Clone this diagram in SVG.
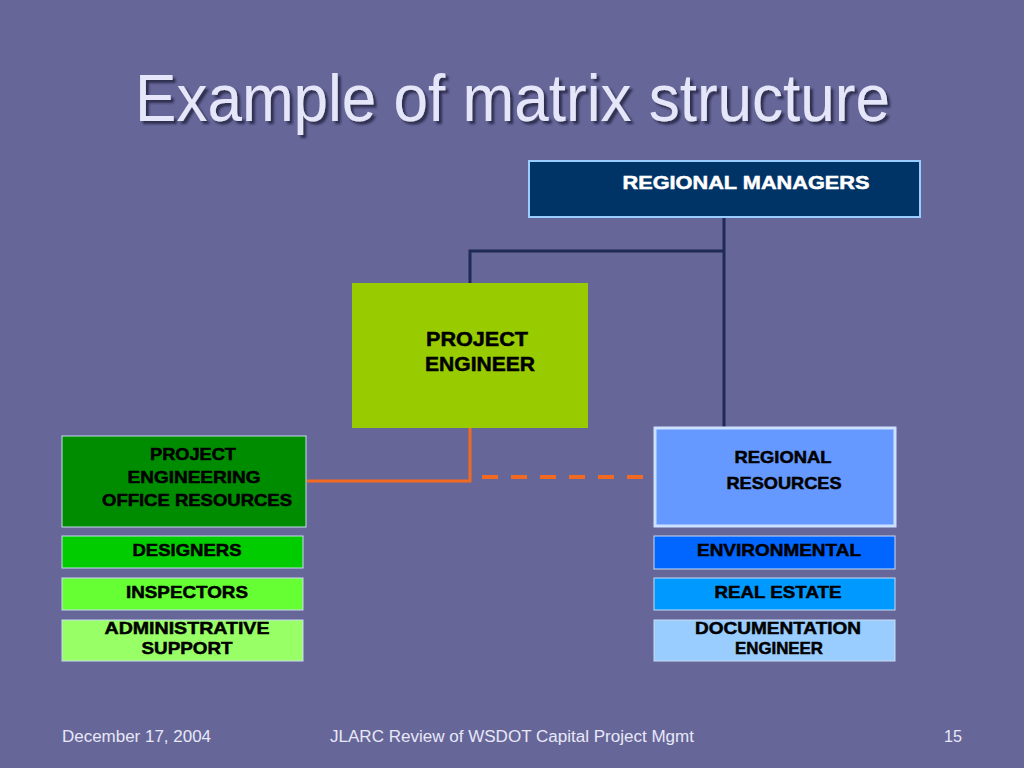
<svg xmlns="http://www.w3.org/2000/svg" width="1024" height="768" viewBox="0 0 1024 768">
<defs>
<filter id="shadow" x="-5%" y="-20%" width="110%" height="140%">
<feDropShadow dx="3" dy="3" stdDeviation="1" flood-color="#2a2a48" flood-opacity="0.9"/>
</filter>
</defs>
<style>
.lbl{font-family:"Liberation Sans",Arial,sans-serif;font-weight:bold;fill:#000;stroke:#000;stroke-width:0.5;text-anchor:middle;}
.wlbl{fill:#fff;stroke:#fff;}
.foot{font-family:"Liberation Sans",Arial,sans-serif;fill:#e8e8f8;font-size:16px;}
.box{stroke:#c9dcf2;stroke-width:1;}
</style>
<rect x="0" y="0" width="1024" height="768" fill="#666699"/>
<g id="title">
<text x="135" y="121" font-family="Liberation Sans,Arial,sans-serif" font-size="67" fill="#e6e6fa" filter="url(#shadow)" textLength="755" lengthAdjust="spacingAndGlyphs">Example of matrix structure</text>
</g>
<g id="connectors" fill="none">
<path d="M724 217 V427 M724 251 H470 V283" stroke="#1f2a55" stroke-width="3"/>
<path d="M470 428 V481 H307" stroke="#f26a22" stroke-width="3"/>
<path d="M482 477 H643" stroke="#f26a22" stroke-width="4" stroke-dasharray="16 13"/>
</g>
<g id="regional-managers">
<rect x="529" y="161" width="391" height="56" fill="#003366" stroke="#99ccff" stroke-width="2"/>
<text class="lbl wlbl" x="746" y="189" font-size="18" textLength="247" lengthAdjust="spacingAndGlyphs">REGIONAL MANAGERS</text>
</g>
<g id="project-engineer">
<rect x="352" y="283" width="236" height="145" fill="#99cc00"/>
<text class="lbl" x="477" y="346" font-size="20" textLength="102" lengthAdjust="spacingAndGlyphs">PROJECT</text>
<text class="lbl" x="480" y="371" font-size="20" textLength="110" lengthAdjust="spacingAndGlyphs">ENGINEER</text>
</g>
<g id="peor">
<rect class="box" x="62" y="436" width="244" height="91" fill="#008c00"/>
<text class="lbl" x="193" y="460" font-size="16.5" textLength="86" lengthAdjust="spacingAndGlyphs">PROJECT</text>
<text class="lbl" x="194" y="483" font-size="16.5" textLength="133" lengthAdjust="spacingAndGlyphs">ENGINEERING</text>
<text class="lbl" x="197" y="506" font-size="16.5" textLength="190" lengthAdjust="spacingAndGlyphs">OFFICE RESOURCES</text>
</g>
<g id="designers">
<rect class="box" x="62" y="536" width="241" height="32" fill="#00cc00"/>
<text class="lbl" x="187" y="556" font-size="17" textLength="109" lengthAdjust="spacingAndGlyphs">DESIGNERS</text>
</g>
<g id="inspectors">
<rect class="box" x="62" y="578" width="241" height="32" fill="#66ff33"/>
<text class="lbl" x="187" y="598" font-size="17" textLength="122" lengthAdjust="spacingAndGlyphs">INSPECTORS</text>
</g>
<g id="admin-support">
<rect class="box" x="62" y="620" width="241" height="41" fill="#99ff66"/>
<text class="lbl" x="187" y="634" font-size="17" textLength="165" lengthAdjust="spacingAndGlyphs">ADMINISTRATIVE</text>
<text class="lbl" x="187" y="654" font-size="17" textLength="91" lengthAdjust="spacingAndGlyphs">SUPPORT</text>
</g>
<g id="regional-resources">
<rect x="655" y="428" width="240" height="98" fill="#6699ff" stroke="#cce0ff" stroke-width="3"/>
<text class="lbl" x="783" y="463" font-size="17" textLength="97" lengthAdjust="spacingAndGlyphs">REGIONAL</text>
<text class="lbl" x="784" y="489" font-size="17" textLength="115" lengthAdjust="spacingAndGlyphs">RESOURCES</text>
</g>
<g id="environmental">
<rect class="box" x="654" y="536" width="241" height="33" fill="#0066ff"/>
<text class="lbl" x="779" y="556" font-size="17" textLength="164" lengthAdjust="spacingAndGlyphs">ENVIRONMENTAL</text>
</g>
<g id="real-estate">
<rect class="box" x="654" y="578" width="241" height="32" fill="#0099ff"/>
<text class="lbl" x="778" y="598" font-size="17" textLength="127" lengthAdjust="spacingAndGlyphs">REAL ESTATE</text>
</g>
<g id="documentation-engineer">
<rect class="box" x="654" y="620" width="241" height="41" fill="#99ccff"/>
<text class="lbl" x="778" y="634" font-size="17" textLength="166" lengthAdjust="spacingAndGlyphs">DOCUMENTATION</text>
<text class="lbl" x="779" y="654" font-size="17" textLength="88" lengthAdjust="spacingAndGlyphs">ENGINEER</text>
</g>
<g id="footer">
<text class="foot" x="62" y="742" textLength="149" lengthAdjust="spacingAndGlyphs">December 17, 2004</text>
<text class="foot" x="330" y="742" textLength="364" lengthAdjust="spacingAndGlyphs">JLARC Review of WSDOT Capital Project Mgmt</text>
<text class="foot" x="944" y="742" textLength="18" lengthAdjust="spacingAndGlyphs">15</text>
</g>
</svg>
